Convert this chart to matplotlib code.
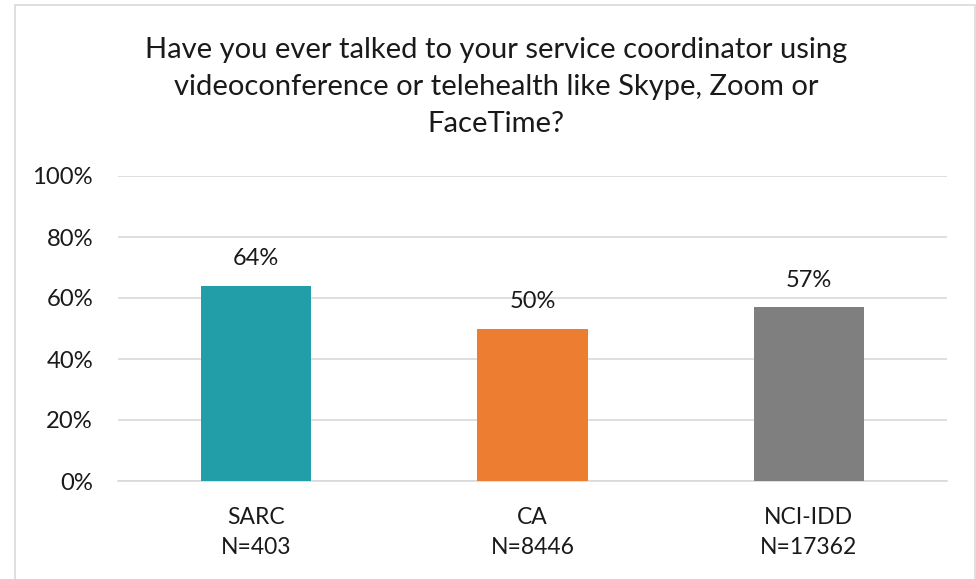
import matplotlib
matplotlib.use("Agg")
import matplotlib.pyplot as plt
from matplotlib.patches import Rectangle

categories = ["SARC\nN=403", "CA\nN=8446", "NCI-IDD\nN=17362"]
values = [64, 50, 57]
colors = ["#229EA8", "#ED7D31", "#7F7F7F"]
yticks = [0, 20, 40, 60, 80, 100]
title = ("Have you ever talked to your service coordinator using\n"
         "videoconference or telehealth like Skype, Zoom or\n"
         "FaceTime?")

plt.rcParams['font.family'] = ['Lato', 'DejaVu Sans']

W, H = 976, 579
fig = plt.figure(figsize=(W / 100, H / 100), dpi=100)

# chart border
fig.patches.append(Rectangle((15 / W, -0.01), (975 - 15) / W, (H - 5) / H + 0.01,
                             transform=fig.transFigure, fill=False,
                             edgecolor="#D9D9D9", linewidth=1.2))

ax = fig.add_axes([118 / W, 98 / H, (947 - 118) / W, (481 - 176) / H])
x = list(range(len(categories)))
bars = ax.bar(x, values, width=0.40, color=colors, zorder=3)
ax.set_xlim(-0.5, len(categories) - 0.5)
ax.set_ylim(0, 100)
ax.set_yticks(yticks)
ax.set_yticklabels([f"{v}%" for v in yticks], fontsize=17.2, color="#1a1a1a")
ax.set_xticks(x)
ax.set_xticklabels(categories, fontsize=16.5, color="#1a1a1a", linespacing=1.5)
ax.tick_params(axis="both", length=0)
ax.tick_params(axis="y", pad=18)
ax.tick_params(axis="x", pad=19)
ax.grid(axis="y", color="#D9D9D9", linewidth=1.2, zorder=0)
for s in ["top", "right", "left"]:
    ax.spines[s].set_visible(False)
ax.spines["bottom"].set_color("#D9D9D9")
ax.spines["bottom"].set_linewidth(1.2)

for b, v in zip(bars, values):
    ax.annotate(f"{v}%", (b.get_x() + b.get_width() / 2, v), xytext=(0, 27),
                textcoords="offset pixels", ha="center", va="center",
                fontsize=17, color="#1a1a1a")

fig.text(496 / W, 1 - 87 / H, title, ha="center", va="center", fontsize=21,
         linespacing=1.54, color="#1a1a1a")

fig.savefig("out.png", dpi=100)
